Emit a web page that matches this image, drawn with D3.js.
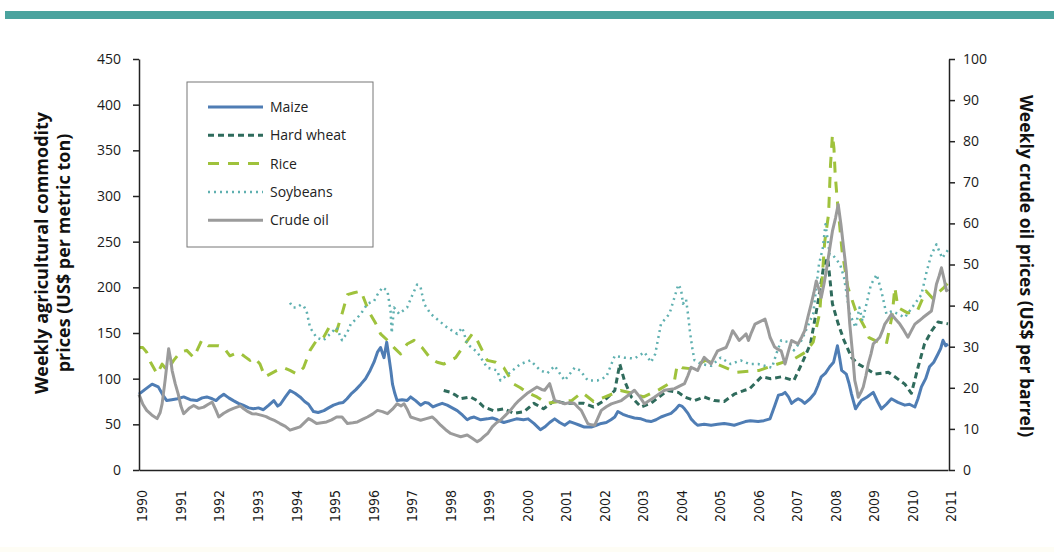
<!DOCTYPE html>
<html>
<head>
<meta charset="utf-8">
<script src="https://cdn.jsdelivr.net/npm/d3@7"></script>
<style>
  body { margin: 0; background: #fff; }
  svg { display: block; }
  .tick text { font-family: "Open Sans", sans-serif; font-size: 14px; fill: #1a1a1a; }
  .xaxis .tick text { font-family: "Liberation Sans Narrow", "Arial Narrow", "DejaVu Sans Condensed", sans-serif; font-size: 14px; }
  .domain, .tick line { stroke: #222; stroke-width: 1.5; }
</style>
</head>
<body>
<svg id="chart" width="1054" height="552"></svg>
<script>
"use strict";
// values: [decimal year, value]
var years = d3.range(1990, 2012);
var leftTicks = d3.range(0, 451, 50);
var rightTicks = d3.range(0, 101, 10);

var maize = [[1990.0,83],[1990.15,88],[1990.34,94],[1990.5,91],[1990.62,82],[1990.72,76],[1990.85,77],[1991.0,78],[1991.16,80],[1991.33,77],[1991.5,76],[1991.64,79],[1991.76,80],[1991.9,78],[1992.0,76],[1992.1,80],[1992.2,83],[1992.33,79],[1992.45,76],[1992.58,73],[1992.7,71],[1992.85,68],[1992.97,67],[1993.1,68],[1993.23,66],[1993.37,71],[1993.5,76],[1993.6,70],[1993.67,72],[1993.8,80],[1993.92,87],[1994.05,84],[1994.18,80],[1994.3,75],[1994.4,72],[1994.53,64],[1994.65,63],[1994.8,65],[1994.92,68],[1995.05,71],[1995.18,73],[1995.3,74],[1995.4,78],[1995.5,83],[1995.63,88],[1995.76,94],[1995.88,100],[1996.0,109],[1996.1,118],[1996.19,129],[1996.27,134],[1996.36,123],[1996.43,140],[1996.49,123],[1996.54,108],[1996.58,94],[1996.64,84],[1996.7,76],[1996.83,77],[1996.96,76],[1997.05,80],[1997.18,76],[1997.31,71],[1997.42,74],[1997.52,73],[1997.63,69],[1997.74,71],[1997.87,73],[1998.0,71],[1998.13,68],[1998.26,65],[1998.4,60],[1998.52,55],[1998.6,57],[1998.7,58],[1998.87,55],[1999.04,56],[1999.17,57],[1999.3,55],[1999.47,52],[1999.64,54],[1999.8,56],[1999.98,55],[2000.1,56],[2000.25,51],[2000.35,47],[2000.42,44],[2000.53,47],[2000.66,52],[2000.79,56],[2000.92,52],[2001.05,49],[2001.18,53],[2001.31,51],[2001.44,49],[2001.56,47],[2001.74,47],[2001.87,49],[2002.0,51],[2002.13,52],[2002.25,55],[2002.35,58],[2002.43,64],[2002.56,61],[2002.69,59],[2002.86,57],[2003.03,56],[2003.16,54],[2003.29,53],[2003.42,55],[2003.55,58],[2003.68,60],[2003.81,62],[2003.92,66],[2004.02,71],[2004.09,70],[2004.16,67],[2004.25,62],[2004.33,56],[2004.42,52],[2004.5,49],[2004.67,50],[2004.85,49],[2005.02,50],[2005.19,51],[2005.32,50],[2005.45,49],[2005.6,51],[2005.74,53],[2005.87,54],[2006.07,53],[2006.22,54],[2006.38,56],[2006.5,70],[2006.6,82],[2006.7,83],[2006.77,85],[2006.86,80],[2006.94,73],[2007.03,76],[2007.11,78],[2007.2,76],[2007.28,73],[2007.42,78],[2007.54,84],[2007.62,92],[2007.71,102],[2007.82,106],[2007.93,113],[2008.03,118],[2008.13,136],[2008.19,122],[2008.24,109],[2008.36,105],[2008.43,95],[2008.49,84],[2008.6,67],[2008.68,72],[2008.75,76],[2008.9,80],[2009.06,85],[2009.17,75],[2009.27,67],[2009.4,72],[2009.53,78],[2009.7,74],[2009.88,71],[2010.0,72],[2010.14,69],[2010.22,78],[2010.31,91],[2010.42,100],[2010.52,113],[2010.63,118],[2010.74,127],[2010.81,133],[2010.87,142],[2010.94,136],[2011.0,138]];

var hardWheat = [[1997.91,87],[1998.09,85],[1998.22,82],[1998.35,78],[1998.6,80],[1998.78,76],[1998.95,69],[1999.2,65],[1999.47,67],[1999.73,62],[2000.0,64],[2000.25,73],[2000.5,67],[2000.79,76],[2001.05,73],[2001.31,73],[2001.55,73],[2001.8,69],[2002.08,76],[2002.35,87],[2002.48,116],[2002.6,98],[2002.78,80],[2003.03,69],[2003.29,73],[2003.5,80],[2003.72,87],[2004.0,85],[2004.16,80],[2004.42,76],[2004.67,80],[2004.93,76],[2005.19,75],[2005.45,83],[2005.7,87],[2005.85,89],[2006.16,102],[2006.4,100],[2006.67,102],[2007.0,98],[2007.2,116],[2007.43,138],[2007.63,185],[2007.78,225],[2007.88,232],[2008.0,182],[2008.15,160],[2008.3,142],[2008.5,123],[2008.67,116],[2008.84,112],[2009.1,105],[2009.45,107],[2009.62,102],[2009.88,94],[2010.05,84],[2010.22,112],[2010.39,138],[2010.57,152],[2010.74,162],[2011.0,160]];

var rice = [[1990.0,134],[1990.1,134],[1990.2,129],[1990.3,118],[1990.38,112],[1990.47,105],[1990.6,116],[1990.73,109],[1990.9,120],[1991.07,129],[1991.24,131],[1991.42,123],[1991.63,142],[1991.8,136],[1992.07,136],[1992.2,134],[1992.36,125],[1992.58,129],[1992.72,125],[1992.88,120],[1993.0,123],[1993.14,116],[1993.27,102],[1993.4,105],[1993.58,109],[1993.75,112],[1993.92,109],[1994.1,105],[1994.27,112],[1994.44,131],[1994.61,142],[1994.79,145],[1994.96,158],[1995.13,152],[1995.27,171],[1995.41,192],[1995.58,194],[1995.76,196],[1995.89,182],[1996.0,171],[1996.15,160],[1996.27,149],[1996.45,142],[1996.62,134],[1996.79,127],[1996.96,138],[1997.14,142],[1997.35,134],[1997.57,122],[1997.74,118],[1997.91,116],[1998.22,123],[1998.43,136],[1998.65,149],[1998.78,142],[1999.04,120],[1999.26,118],[1999.47,112],[1999.73,94],[1999.9,90],[2000.07,85],[2000.33,80],[2000.58,73],[2000.9,75],[2001.23,76],[2001.5,85],[2001.8,75],[2002.1,80],[2002.5,87],[2002.8,84],[2003.1,80],[2003.5,88],[2003.9,98],[2003.97,115],[2004.1,112],[2004.3,111],[2004.7,120],[2005.0,116],[2005.5,107],[2006.1,109],[2006.5,115],[2007.02,122],[2007.3,129],[2007.5,140],[2007.67,172],[2007.8,250],[2007.9,280],[2007.95,334],[2008.0,367],[2008.04,352],[2008.07,325],[2008.12,298],[2008.25,240],[2008.4,200],[2008.6,175],[2008.84,156],[2008.95,145],[2009.2,140],[2009.4,138],[2009.55,169],[2009.62,200],[2009.7,178],[2009.95,172],[2010.2,174],[2010.43,196],[2010.6,188],[2010.74,194],[2010.9,200],[2011.0,205]];

var soybeans = [[1993.92,183],[1994.0,178],[1994.1,178],[1994.2,181],[1994.27,180],[1994.35,174],[1994.44,156],[1994.53,150],[1994.61,145],[1994.79,142],[1994.96,149],[1995.13,156],[1995.27,142],[1995.4,150],[1995.5,160],[1995.63,165],[1995.76,171],[1995.93,182],[1996.1,185],[1996.19,192],[1996.32,200],[1996.45,196],[1996.53,174],[1996.56,150],[1996.62,178],[1996.75,171],[1996.96,178],[1997.1,192],[1997.22,203],[1997.31,200],[1997.4,182],[1997.57,171],[1997.74,165],[1998.0,156],[1998.26,149],[1998.39,156],[1998.52,138],[1998.78,129],[1999.04,112],[1999.3,109],[1999.38,98],[1999.64,107],[1999.9,116],[2000.16,120],[2000.42,109],[2000.6,106],[2000.79,114],[2001.05,98],[2001.31,112],[2001.45,109],[2001.65,98],[2001.9,98],[2002.13,102],[2002.35,125],[2002.6,123],[2002.86,122],[2003.12,129],[2003.29,118],[2003.4,127],[2003.55,160],[2003.77,171],[2003.9,189],[2004.0,203],[2004.07,198],[2004.12,182],[2004.2,187],[2004.25,171],[2004.3,152],[2004.36,134],[2004.42,120],[2004.6,116],[2004.85,114],[2005.1,123],[2005.36,116],[2005.62,120],[2005.85,116],[2006.07,116],[2006.43,112],[2006.55,128],[2006.67,142],[2006.86,140],[2007.0,131],[2007.2,142],[2007.5,171],[2007.65,225],[2007.75,243],[2007.82,269],[2007.93,236],[2008.0,236],[2008.2,225],[2008.3,211],[2008.45,171],[2008.6,156],[2008.7,178],[2008.78,163],[2009.0,203],[2009.15,214],[2009.27,196],[2009.4,171],[2009.55,174],[2009.88,167],[2010.14,182],[2010.31,192],[2010.45,218],[2010.57,236],[2010.7,247],[2010.85,232],[2011.0,241]];

// crude oil, right axis (US$ per barrel)
var crudeOil = [[1990.0,18.4],[1990.1,16.0],[1990.2,14.5],[1990.33,13.4],[1990.47,12.5],[1990.55,14.0],[1990.6,16.1],[1990.68,22.0],[1990.77,29.5],[1990.82,27],[1990.86,24.2],[1990.94,21],[1991.02,18.4],[1991.09,15.5],[1991.16,13.7],[1991.3,15.0],[1991.42,15.7],[1991.55,15.0],[1991.68,15.3],[1991.8,16.0],[1991.9,16.5],[1992.0,14.5],[1992.07,12.9],[1992.2,13.8],[1992.33,14.5],[1992.45,15.0],[1992.54,15.3],[1992.63,15.6],[1992.72,14.9],[1992.83,14.2],[1992.93,13.7],[1993.06,13.6],[1993.19,13.3],[1993.3,13.0],[1993.4,12.5],[1993.53,12.0],[1993.66,11.3],[1993.8,10.6],[1993.92,9.7],[1994.05,10.1],[1994.18,10.5],[1994.3,11.6],[1994.4,12.5],[1994.5,12.0],[1994.61,11.3],[1994.74,11.5],[1994.87,11.7],[1995.0,12.2],[1995.13,12.9],[1995.27,12.9],[1995.41,11.3],[1995.55,11.5],[1995.67,11.7],[1995.8,12.3],[1995.93,12.9],[1996.06,13.6],[1996.19,14.5],[1996.32,14.2],[1996.45,13.7],[1996.58,14.8],[1996.7,16.1],[1996.8,15.6],[1996.88,16.1],[1996.96,14.8],[1997.05,12.9],[1997.18,12.5],[1997.31,12.1],[1997.46,12.5],[1997.61,12.9],[1997.72,12.0],[1997.83,10.9],[1997.96,9.8],[1998.09,8.9],[1998.22,8.5],[1998.35,8.1],[1998.52,8.5],[1998.65,7.7],[1998.78,6.9],[1998.87,7.4],[1998.95,8.1],[1999.06,9.0],[1999.17,10.5],[1999.28,11.5],[1999.38,12.1],[1999.51,13.3],[1999.64,14.5],[1999.75,15.8],[1999.86,16.9],[1999.97,17.8],[2000.07,18.6],[2000.2,19.4],[2000.33,20.2],[2000.45,19.6],[2000.53,19.4],[2000.66,21],[2000.79,16.9],[2000.92,16.5],[2001.05,16.1],[2001.18,16.4],[2001.31,16.1],[2001.4,15.2],[2001.48,14.5],[2001.57,12.8],[2001.65,11.3],[2001.74,11.0],[2001.83,10.9],[2001.92,12.8],[2002.0,14.5],[2002.13,15.4],[2002.26,16.1],[2002.4,16.5],[2002.52,16.9],[2002.7,18.2],[2002.86,19.4],[2003.0,17.8],[2003.12,16.1],[2003.25,16.9],[2003.38,17.7],[2003.5,18.5],[2003.64,19.4],[2003.77,19.6],[2003.9,19.8],[2004.03,20.4],[2004.16,21],[2004.25,23],[2004.33,25],[2004.42,24.6],[2004.5,24.2],[2004.58,25.8],[2004.67,27.4],[2004.76,26.6],[2004.85,25.8],[2004.93,27.4],[2005.02,29],[2005.13,29.4],[2005.24,29.8],[2005.33,31.8],[2005.41,33.9],[2005.5,32.7],[2005.58,31.5],[2005.67,32.3],[2005.76,33.1],[2005.82,31.5],[2005.9,33.5],[2005.99,35.5],[2006.12,36.1],[2006.25,36.7],[2006.32,34.5],[2006.38,32.3],[2006.44,31.1],[2006.5,29.9],[2006.58,29.4],[2006.67,29],[2006.72,27.4],[2006.77,25.8],[2006.85,28.6],[2006.94,31.5],[2007.02,31.1],[2007.11,30.7],[2007.2,32.3],[2007.28,33.9],[2007.36,37.1],[2007.45,40.4],[2007.52,43.2],[2007.58,46],[2007.65,44],[2007.71,42],[2007.78,45.2],[2007.84,48.4],[2007.92,53.3],[2008.0,58.1],[2008.08,61.3],[2008.15,64.6],[2008.22,59.8],[2008.28,54.9],[2008.32,51.7],[2008.36,48.4],[2008.4,42],[2008.45,35.5],[2008.52,28.6],[2008.58,21.8],[2008.63,19.8],[2008.67,17.7],[2008.74,18.9],[2008.8,20.2],[2008.87,23],[2008.93,25.8],[2009.0,28.2],[2009.06,30.7],[2009.15,31.5],[2009.23,32.3],[2009.3,33.9],[2009.36,35.5],[2009.45,36.7],[2009.53,37.9],[2009.64,36.7],[2009.75,35.5],[2009.86,33.9],[2009.96,32.3],[2010.05,33.9],[2010.14,35.5],[2010.25,36.3],[2010.35,37.1],[2010.46,37.9],[2010.57,38.7],[2010.64,42],[2010.7,45.2],[2010.77,47.2],[2010.83,49.2],[2010.9,46.4],[2010.96,43.6],[2011.0,44]];

var series = [
	{name: 'Maize', data: maize, color: '#4f7db4', width: 3, dash: null, axis: 'left'},
	{name: 'Hard wheat', data: hardWheat, color: '#2f6b5c', width: 3, dash: '6,4', axis: 'left'},
	{name: 'Rice', data: rice, color: '#9fc23c', width: 3, dash: '11,9', axis: 'left'},
	{name: 'Soybeans', data: soybeans, color: '#5fb0b0', width: 2.5, dash: '2,4', axis: 'left'},
	{name: 'Crude oil', data: crudeOil, color: '#9b9b9b', width: 3, dash: null, axis: 'right'}
];

var svg = d3.select('#chart');

//teal band at the top, faint band at the bottom
svg.append('rect').attr('x', 5).attr('y', 11).attr('width', 1049).attr('height', 8).style('fill', '#4aa39e');
svg.append('rect').attr('x', 0).attr('y', 547).attr('width', 1054).attr('height', 5).style('fill', '#fefdf5');

var x = d3.scaleLinear().domain([1990, 2011]).range([139, 948]);
var yL = d3.scaleLinear().domain([0, 450]).range([470, 59]);
var yR = d3.scaleLinear().domain([0, 100]).range([470, 59]);

//lines
series.forEach(function(s){
	var yScale = s.axis == 'left' ? yL : yR;
	var line = d3.line()
		.x(function(d){ return x(d[0]); })
		.y(function(d){ return yScale(d[1]); });
	svg.append('path')
		.datum(s.data)
		.attr('d', line)
		.style('fill', 'none')
		.style('stroke', s.color)
		.style('stroke-width', s.width)
		.style('stroke-linejoin', 'round')
		.style('stroke-dasharray', s.dash);
});

//axes
svg.append('g')
	.attr('class', 'xaxis')
	.attr('transform', 'translate(0,470)')
	.call(d3.axisBottom(x).tickValues(years).tickFormat(d3.format('d')).tickSize(0).tickPadding(0))
	.selectAll('text')
	.attr('transform', 'translate(3,20) rotate(-90)')
	.attr('text-anchor', 'end')
	.attr('dy', '0.35em')
	.attr('y', 0)
	.attr('x', 0);

svg.append('g')
	.attr('transform', 'translate(139,0)')
	.call(d3.axisLeft(yL).tickValues(leftTicks).tickSize(6).tickSizeOuter(0).tickPadding(12));

svg.append('g')
	.attr('transform', 'translate(949,0)')
	.call(d3.axisRight(yR).tickValues(rightTicks).tickSize(6).tickSizeOuter(0).tickPadding(8));

//axis titles
var titleFont = '"Open Sans", sans-serif';
var leftTitle = ['Weekly agricultural commodity', 'prices (US$ per metric ton)'];
leftTitle.forEach(function(t, i){
	svg.append('text')
		.attr('transform', 'translate(' + (42 + i * 22) + ',253) rotate(-90)')
		.attr('text-anchor', 'middle')
		.attr('dy', '0.35em')
		.style('font-family', titleFont)
		.style('font-weight', 'bold')
		.style('font-size', '18px')
		.style('fill', '#111')
		.text(t);
});
svg.append('text')
	.attr('transform', 'translate(1026,266) rotate(90)')
	.attr('text-anchor', 'middle')
	.attr('dy', '0.35em')
	.style('font-family', titleFont)
	.style('font-weight', 'bold')
	.style('font-size', '17.5px')
	.style('fill', '#111')
	.text('Weekly crude oil prices (US$ per barrel)');

//legend
var legend = svg.append('g');
legend.append('rect')
	.attr('x', 187).attr('y', 82).attr('width', 186).attr('height', 165)
	.style('fill', '#fff').style('stroke', '#777').style('stroke-width', 1);
var rows = legend.selectAll('g.row').data(series).enter().append('g')
	.attr('class', 'row')
	.attr('transform', function(d, i){ return 'translate(0,' + (107 + i * 28.3) + ')'; });
rows.append('line')
	.attr('x1', 208).attr('x2', 263)
	.style('stroke', function(d){ return d.color; })
	.style('stroke-width', function(d){ return d.width; })
	.style('stroke-dasharray', function(d){ return d.dash; });
rows.append('text')
	.attr('x', 270).attr('dy', '0.35em')
	.style('font-family', '"Open Sans", sans-serif')
	.style('font-size', '14px')
	.style('fill', '#222')
	.text(function(d){ return d.name; });
</script>
</body>
</html>
